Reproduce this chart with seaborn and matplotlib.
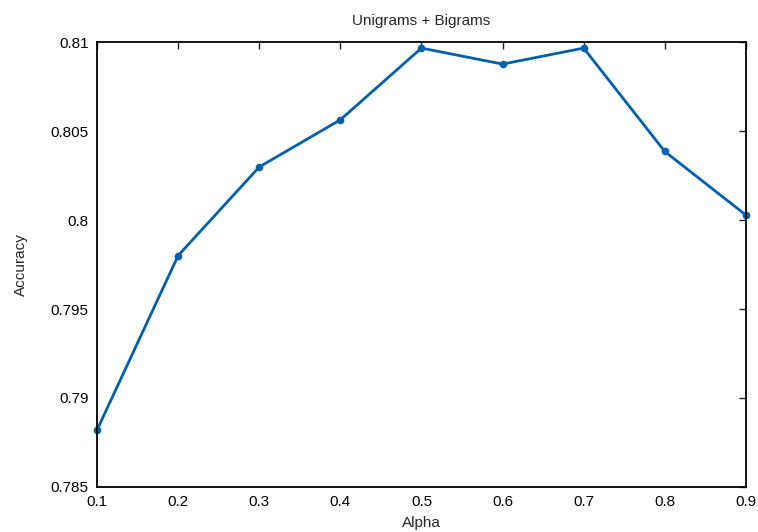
import matplotlib
matplotlib.use("Agg")
import matplotlib.pyplot as plt
import seaborn as sns
import pandas as pd

alpha = [0.1, 0.2, 0.3, 0.4, 0.5, 0.6, 0.7, 0.8, 0.9]
accuracy = [0.7882, 0.7980, 0.80298, 0.80563, 0.80966, 0.80876, 0.80966, 0.80385, 0.80028]
yticks = [0.785, 0.79, 0.795, 0.8, 0.805, 0.81]
ytick_labels = ["0.785", "0.79", "0.795", "0.8", "0.805", "0.81"]
xticks = [0.1, 0.2, 0.3, 0.4, 0.5, 0.6, 0.7, 0.8, 0.9]
xtick_labels = ["0.1", "0.2", "0.3", "0.4", "0.5", "0.6", "0.7", "0.8", "0.9"]

sns.set_style("white")
plt.rcParams['font.family'] = ['Liberation Sans', 'DejaVu Sans']

df = pd.DataFrame({"Alpha": alpha, "Accuracy": accuracy})

fig = plt.figure(figsize=(7.58, 5.32), dpi=100)
ax = fig.add_axes([0.128, 0.0846, 0.856, 0.8364])
sns.lineplot(data=df, x="Alpha", y="Accuracy", ax=ax, color="#0060ad",
             linewidth=2, marker="o", markersize=5.5, markeredgewidth=0, clip_on=False)

ax.set_xlim(0.1, 0.9)
ax.set_ylim(0.785, 0.81)
ax.set_xticks(xticks)
ax.set_xticklabels(xtick_labels)
ax.set_yticks(yticks)
ax.set_yticklabels(ytick_labels)
ax.tick_params(direction="in", length=5, width=1, top=True, right=True,
               labelsize=11, colors="#222222", labelcolor="black")
ax.tick_params(axis="x", pad=6)
ax.tick_params(axis="y", pad=6)
for s in ax.spines.values():
    s.set_visible(True)
    s.set_color("black")
    s.set_linewidth(1.3)
ax.set_xlabel("Alpha", fontsize=11, labelpad=5)
ax.set_ylabel("Accuracy", fontsize=11, labelpad=16.5)
ax.set_title("Unigrams + Bigrams", fontsize=11, pad=12)

fig.savefig("out.png", dpi=100)
